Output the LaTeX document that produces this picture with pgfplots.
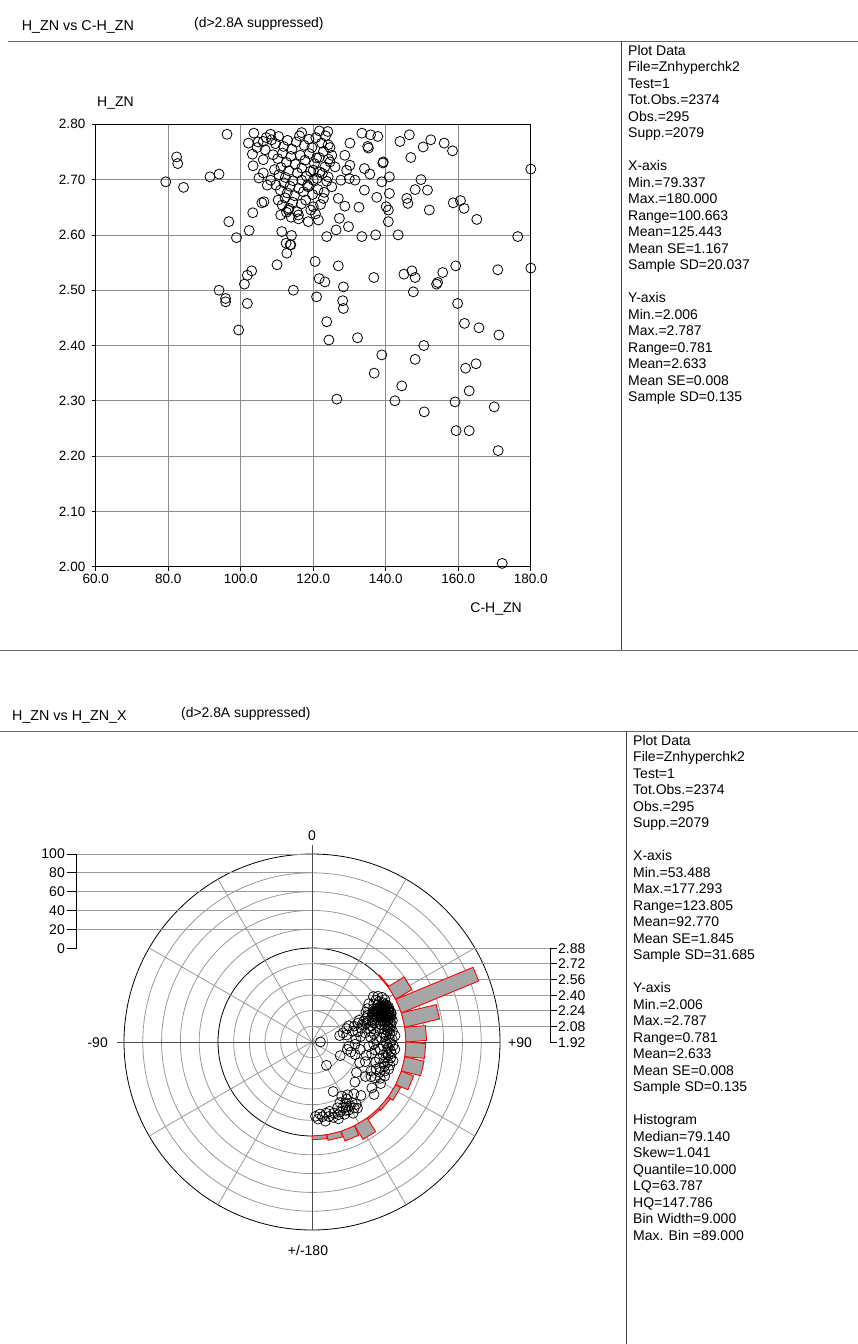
\documentclass[border=0pt]{standalone}
\usepackage{fontspec}
\setmainfont{Liberation Sans}
\usepackage{pgfplots}
\pgfplotsset{compat=1.18}
\definecolor{bargray}{HTML}{A6A6A6}
\definecolor{gridg}{HTML}{8C8C8C}
\definecolor{ringg}{HTML}{999999}
\newcommand\f{\fontsize{14}{16.5}\selectfont}
\newcommand\hbin[2]{%
 \pgfmathsetmacro\hbL{#2*0.94}%
 \pgfmathsetmacro\hbAx{94*sin(#1-4.5)}\pgfmathsetmacro\hbAy{94*cos(#1-4.5)}%
 \pgfmathsetmacro\hbBx{94*sin(#1+4.5)}\pgfmathsetmacro\hbBy{94*cos(#1+4.5)}%
 \pgfmathsetmacro\hbUx{\hbL*sin(#1)}\pgfmathsetmacro\hbUy{\hbL*cos(#1)}%
 \pgfmathsetmacro\hbCx{\hbBx+\hbUx}\pgfmathsetmacro\hbCy{\hbBy+\hbUy}%
 \pgfmathsetmacro\hbDx{\hbAx+\hbUx}\pgfmathsetmacro\hbDy{\hbAy+\hbUy}%
 \edef\hbtmp{\noexpand\addplot[fill=bargray, draw=red, line width=0.9pt] coordinates {(\hbAx,\hbAy) (\hbBx,\hbBy) (\hbCx,\hbCy) (\hbDx,\hbDy) (\hbAx,\hbAy)};}%
 \hbtmp}
\begin{document}
\begin{tikzpicture}[font=\f]
\useasboundingbox (0,0) rectangle (858pt,-1344pt);
% ---------- frame lines and titles ----------
\draw[black!60, line width=0.9pt] (8pt,-41pt) -- (858pt,-41pt);
\draw[black!75, line width=0.9pt] (621.7pt,-41pt) -- (621.7pt,-650pt);
\draw[black!60, line width=0.9pt] (0pt,-650pt) -- (858pt,-650pt);
\draw[black!60, line width=0.9pt] (0pt,-731pt) -- (858pt,-731pt);
\draw[black!75, line width=0.9pt] (626.7pt,-731pt) -- (626.7pt,-1344pt);
\node[anchor=base west, inner sep=0, font=\fontsize{14.3}{16}\selectfont] at (21.7pt,-30pt) {H\_ZN vs C-H\_ZN};
\node[anchor=base west, inner sep=0, font=\fontsize{13.9}{16}\selectfont] at (194pt,-27pt) {(d>2.8A suppressed)};
\node[anchor=base west, inner sep=0, font=\fontsize{14.3}{16}\selectfont] at (12pt,-720pt) {H\_ZN vs H\_ZN\_X};
\node[anchor=base west, inner sep=0, font=\fontsize{13.9}{16}\selectfont] at (181pt,-717pt) {(d>2.8A suppressed)};
% ---------- info texts ----------
\node[anchor=north west, inner sep=0, align=left] at (628pt,-45pt) {Plot Data\\File=Znhyperchk2\\Test=1\\Tot.Obs.=2374\\Obs.=295\\Supp.=2079\\[16.5pt]X-axis\\Min.=79.337\\Max.=180.000\\Range=100.663\\Mean=125.443\\Mean SE=1.167\\Sample SD=20.037\\[16.5pt]Y-axis\\Min.=2.006\\Max.=2.787\\Range=0.781\\Mean=2.633\\Mean SE=0.008\\Sample SD=0.135};
\node[anchor=north west, inner sep=0, align=left] at (633pt,-735pt) {Plot Data\\File=Znhyperchk2\\Test=1\\Tot.Obs.=2374\\Obs.=295\\Supp.=2079\\[16.5pt]X-axis\\Min.=53.488\\Max.=177.293\\Range=123.805\\Mean=92.770\\Mean SE=1.845\\Sample SD=31.685\\[16.5pt]Y-axis\\Min.=2.006\\Max.=2.787\\Range=0.781\\Mean=2.633\\Mean SE=0.008\\Sample SD=0.135\\[16.5pt]Histogram\\Median=79.140\\Skew=1.041\\Quantile=10.000\\LQ=63.787\\HQ=147.786\\Bin Width=9.000\\Max. Bin =89.000};
% ---------- top scatter ----------
\begin{axis}[
  scale only axis, width=435pt, height=442.4pt,
  at={(95.8pt,-566.7pt)}, anchor=south west,
  xmin=60, xmax=180, ymin=2.0, ymax=2.8,
  xtick={60,80,100,120,140,160,180},
  ytick={2.0,2.1,2.2,2.3,2.4,2.5,2.6,2.7,2.8},
  grid=major, major grid style={gridg, line width=0.8pt},
  axis line style={black, line width=0.8pt},
  tick align=outside, major tick length=4pt,
  tick style={black, line width=0.8pt},
  xtick pos=bottom, ytick pos=left,
  /pgf/number format/assume math mode=true,
  tick label style={font=\fontsize{13.5}{14}\selectfont},
  xticklabel style={/pgf/number format/fixed, /pgf/number format/fixed zerofill, /pgf/number format/precision=1},
  yticklabel style={/pgf/number format/fixed, /pgf/number format/fixed zerofill, /pgf/number format/precision=2, xshift=-3pt},
  clip=false
]
\addplot[only marks, mark=o, mark size=5pt, mark options={line width=0.8pt, black}] coordinates {
(79.3,2.696) (82.3,2.741) (82.6,2.729) (84.2,2.686) (91.5,2.705) (94.0,2.710) (96.2,2.782) (96.7,2.624) (98.8,2.595) (94.0,2.500) (95.8,2.485) (95.8,2.479) (99.4,2.428) (101.8,2.476) (101.0,2.511) (101.8,2.527) (103.0,2.535) (102.3,2.608) (103.3,2.640) (105.8,2.658) (106.4,2.660) (110.0,2.546) (111.3,2.606) (112.5,2.585) (113.8,2.582) (112.7,2.567) (114.5,2.500)
(103.2,2.746) (103.6,2.784) (102.1,2.766) (106.2,2.769) (106.7,2.754) (108.2,2.782) (106.2,2.736) (103.4,2.725) (106.2,2.712) (108.2,2.699) (104.5,2.758) (105.0,2.703) (107.3,2.690) (104.8,2.768) (107.0,2.776)
(108.5,2.772) (109.6,2.765) (110.4,2.778) (111.8,2.760) (112.9,2.771) (114.1,2.755) (115.3,2.768) (116.2,2.779) (117.5,2.762) (118.8,2.773) (119.6,2.758) (120.7,2.776) (122.3,2.766) (123.4,2.779) (124.6,2.758)
(108.9,2.745) (110.2,2.738) (111.5,2.748) (112.6,2.731) (113.8,2.742) (115.0,2.728) (116.4,2.744) (117.7,2.735) (118.9,2.747) (120.3,2.729) (121.6,2.740) (122.8,2.751) (124.2,2.737)
(109.3,2.718) (110.5,2.709) (111.1,2.722) (112.3,2.704) (113.2,2.716) (114.4,2.698) (115.6,2.712) (116.8,2.721) (118.1,2.706) (119.2,2.715) (121.0,2.702) (122.5,2.711) (123.7,2.697)
(109.7,2.690) (110.9,2.681) (111.9,2.694) (112.8,2.676) (113.6,2.688) (114.8,2.671) (116.0,2.684) (117.3,2.678) (118.4,2.690) (119.8,2.673) (121.3,2.682) (123.0,2.677)
(110.3,2.663) (111.4,2.654) (112.2,2.667) (113.3,2.648) (114.3,2.659) (115.5,2.642) (116.7,2.656) (117.9,2.663) (119.3,2.645) (120.6,2.638) (122.0,2.655)
(111.0,2.636) (112.6,2.641) (113.9,2.632) (115.9,2.629)
(116.8,2.785) (121.7,2.788) (124.0,2.787) (124.1,2.763) (130.1,2.766) (133.4,2.784) (135.8,2.781) (137.8,2.778) (135.0,2.760) (135.2,2.757) (143.9,2.769) (146.5,2.781) (150.3,2.759) (152.4,2.772) (156.1,2.766) (158.4,2.752) (146.9,2.740) (139.3,2.732) (139.2,2.730) (180.0,2.719)
(149.7,2.700) (148.1,2.682) (145.8,2.666) (146.1,2.657) (151.5,2.681) (152.0,2.645) (158.6,2.658) (160.6,2.662) (161.6,2.648) (165.1,2.628) (176.4,2.597) (180.0,2.540) (170.9,2.537) (159.3,2.544) (155.7,2.532) (154.3,2.514) (154.0,2.511) (147.2,2.535) (148.1,2.523) (145.0,2.529) (147.6,2.497)
(159.8,2.476) (161.7,2.440) (165.7,2.432) (171.2,2.419) (150.5,2.400) (148.1,2.375) (162.0,2.359) (164.9,2.367) (138.9,2.383) (136.8,2.350) (132.2,2.414) (124.3,2.410) (123.7,2.443) (128.3,2.467) (128.1,2.481) (128.3,2.506) (123.2,2.515) (121.6,2.521) (120.9,2.488) (120.5,2.552) (126.9,2.544) (136.7,2.523)
(123.7,2.597) (133.4,2.597) (137.2,2.600) (143.4,2.600) (114.0,2.599) (113.6,2.582) (129.7,2.615) (127.2,2.630) (126.3,2.609) (140.7,2.624) (140.7,2.645) (140.1,2.651) (132.6,2.650) (128.7,2.652) (126.9,2.666) (122.8,2.666) (120.0,2.651) (137.5,2.668) (134.1,2.681) (141.0,2.675) (138.9,2.696) (141.0,2.705) (135.6,2.710) (134.1,2.720)
(131.5,2.699) (129.9,2.702) (127.6,2.699) (125.1,2.687) (124.1,2.705) (130.1,2.726) (129.2,2.717) (126.0,2.723) (124.6,2.732) (123.2,2.723) (128.7,2.744) (125.1,2.744) (120.9,2.739) (120.0,2.717) (121.8,2.714) (120.0,2.699) (118.6,2.687) (116.8,2.699) (121.4,2.627) (118.6,2.624) (115.9,2.636) (113.1,2.645)
(144.4,2.327) (126.5,2.303) (142.5,2.300) (159.1,2.298) (150.6,2.280) (169.9,2.289) (163.0,2.318) (159.4,2.246) (163.0,2.246) (171.0,2.210) (172.1,2.006)
};
\end{axis}
\node[anchor=base west, inner sep=0] at (97pt,-106pt) {H\_ZN};
\node[anchor=base east, inner sep=0] at (522pt,-612pt) {C-H\_ZN};
% ---------- polar panel ----------
\begin{axis}[at={(0pt,-1340pt)}, anchor=south west, x=1pt, y=1pt,
  xmin=-312, xmax=308, ymin=-298, ymax=302, hide axis, clip=false]
% rings
\draw[ringg, line width=0.8pt] (0,0) circle[radius=15.67pt];
\draw[ringg, line width=0.8pt] (0,0) circle[radius=31.33pt];
\draw[ringg, line width=0.8pt] (0,0) circle[radius=47pt];
\draw[ringg, line width=0.8pt] (0,0) circle[radius=62.67pt];
\draw[ringg, line width=0.8pt] (0,0) circle[radius=78.33pt];
\draw[ringg, line width=0.8pt] (0,0) circle[radius=112.8pt];
\draw[ringg, line width=0.8pt] (0,0) circle[radius=131.6pt];
\draw[ringg, line width=0.8pt] (0,0) circle[radius=150.4pt];
\draw[ringg, line width=0.8pt] (0,0) circle[radius=169.2pt];
\draw[black, line width=0.8pt] (0,0) circle[radius=94pt];
\draw[black, line width=0.8pt] (0,0) circle[radius=188pt];
% spokes every 30 degrees
\draw[ringg, line width=0.8pt] (0,0) -- (94,162.8);
\draw[ringg, line width=0.8pt] (0,0) -- (162.8,94);
\draw[ringg, line width=0.8pt] (0,0) -- (162.8,-94);
\draw[ringg, line width=0.8pt] (0,0) -- (94,-162.8);
\draw[ringg, line width=0.8pt] (0,0) -- (-94,-162.8);
\draw[ringg, line width=0.8pt] (0,0) -- (-162.8,-94);
\draw[ringg, line width=0.8pt] (0,0) -- (-162.8,94);
\draw[ringg, line width=0.8pt] (0,0) -- (-94,162.8);
% main axes
\draw[black!70, line width=0.8pt] (-195,0) -- (188,0);
\draw[black!70, line width=0.8pt] (0,197) -- (0,-188);
% histogram scale (left) lines
\draw[ringg, line width=0.8pt] (-235.3,188) -- (0,188);
\draw[ringg, line width=0.8pt] (-235.3,169.2) -- (0,169.2);
\draw[ringg, line width=0.8pt] (-235.3,150.4) -- (0,150.4);
\draw[ringg, line width=0.8pt] (-235.3,131.6) -- (0,131.6);
\draw[ringg, line width=0.8pt] (-235.3,112.8) -- (0,112.8);
\draw[black, line width=0.8pt] (-235.3,188) -- (-235.3,94);
\draw[black, line width=0.8pt] (-245,188) -- (-235.3,188);
\draw[black, line width=0.8pt] (-245,169.2) -- (-235.3,169.2);
\draw[black, line width=0.8pt] (-245,150.4) -- (-235.3,150.4);
\draw[black, line width=0.8pt] (-245,131.6) -- (-235.3,131.6);
\draw[black, line width=0.8pt] (-245,112.8) -- (-235.3,112.8);
\draw[black, line width=0.8pt] (-245,94) -- (-235.3,94);
% distance scale (right) lines
\draw[ringg, line width=0.8pt] (0,94) -- (238,94);
\draw[ringg, line width=0.8pt] (0,78.33) -- (238,78.33);
\draw[ringg, line width=0.8pt] (0,62.67) -- (238,62.67);
\draw[ringg, line width=0.8pt] (0,47) -- (238,47);
\draw[ringg, line width=0.8pt] (0,31.33) -- (238,31.33);
\draw[ringg, line width=0.8pt] (0,15.67) -- (238,15.67);
\draw[black, line width=0.8pt] (238,94) -- (238,0);
\draw[black, line width=0.8pt] (238,94) -- (245,94);
\draw[black, line width=0.8pt] (238,78.33) -- (245,78.33);
\draw[black, line width=0.8pt] (238,62.67) -- (245,62.67);
\draw[black, line width=0.8pt] (238,47) -- (245,47);
\draw[black, line width=0.8pt] (238,31.33) -- (245,31.33);
\draw[black, line width=0.8pt] (238,15.67) -- (245,15.67);
\draw[black, line width=0.8pt] (238,0) -- (245,0);
% scatter in polar form: a = H_ZN_X (deg, clockwise from top), d = H_ZN
\addplot[only marks, mark=o, mark size=5pt, mark options={line width=0.7pt, black}] table[row sep=\\,
  x expr={97.917*(\thisrow{d}-1.92)*sin(\thisrow{a})},
  y expr={97.917*(\thisrow{d}-1.92)*cos(\thisrow{a})}] {
a d\\
53.5 2.70\\ 55.2 2.74\\ 56.8 2.70\\ 57.5 2.77\\ 58.3 2.66\\ 59.1 2.72\\ 59.8 2.78\\ 60.4 2.69\\ 61.0 2.75\\ 61.7 2.63\\ 62.2 2.71\\ 62.8 2.76\\ 56.0 2.62\\ 58.9 2.58\\ 60.9 2.55\\ 62.5 2.67\\
63.2 2.73\\ 63.5 2.68\\ 63.9 2.77\\ 64.2 2.64\\ 64.5 2.71\\ 64.8 2.75\\ 65.1 2.69\\ 65.4 2.78\\ 65.7 2.66\\ 66.0 2.72\\ 66.3 2.74\\ 66.6 2.70\\ 66.9 2.77\\ 67.2 2.65\\ 67.5 2.73\\ 67.8 2.69\\ 68.1 2.76\\ 68.4 2.71\\ 68.7 2.67\\ 69.0 2.74\\ 69.3 2.78\\ 69.6 2.70\\ 69.9 2.72\\ 70.2 2.66\\ 70.5 2.75\\ 70.8 2.69\\ 71.1 2.73\\ 71.4 2.77\\ 71.7 2.64\\
63.7 2.62\\ 64.9 2.60\\ 66.2 2.61\\ 67.4 2.58\\ 68.6 2.62\\ 69.8 2.60\\ 70.9 2.57\\ 64.1 2.76\\ 65.6 2.74\\ 67.0 2.71\\ 68.3 2.68\\ 69.5 2.65\\ 70.6 2.72\\ 71.5 2.70\\ 63.4 2.70\\ 65.0 2.66\\ 66.8 2.63\\ 68.9 2.76\\ 70.3 2.78\\ 71.9 2.75\\
64.6 2.55\\ 66.5 2.52\\ 68.0 2.49\\ 69.2 2.54\\ 70.7 2.50\\ 65.3 2.45\\ 67.7 2.43\\ 69.4 2.38\\ 71.2 2.46\\ 66.1 2.33\\ 68.8 2.30\\
72.3 2.71\\ 72.9 2.76\\ 73.4 2.67\\ 73.9 2.73\\ 74.5 2.69\\ 75.0 2.77\\ 75.6 2.64\\ 76.1 2.72\\ 76.7 2.75\\ 77.2 2.68\\ 77.8 2.70\\ 78.3 2.74\\ 78.9 2.62\\ 79.4 2.71\\ 80.0 2.67\\ 80.6 2.73\\ 73.1 2.58\\ 74.8 2.55\\ 76.4 2.51\\ 78.0 2.56\\ 79.7 2.53\\ 74.2 2.44\\ 77.5 2.40\\ 80.2 2.47\\ 75.3 2.35\\ 78.6 2.28\\ 73.6 2.25\\ 76.9 2.21\\
81.4 2.70\\ 82.3 2.75\\ 83.1 2.66\\ 84.0 2.72\\ 84.9 2.68\\ 85.7 2.77\\ 86.6 2.63\\ 87.4 2.71\\ 88.3 2.74\\ 89.2 2.67\\ 82.8 2.56\\ 85.2 2.52\\ 87.9 2.58\\ 83.6 2.42\\ 86.3 2.37\\ 89.6 2.006\\
90.6 2.72\\ 91.5 2.68\\ 92.4 2.75\\ 93.2 2.65\\ 94.1 2.70\\ 95.0 2.77\\ 95.9 2.62\\ 96.7 2.73\\ 97.6 2.69\\ 98.4 2.74\\ 91.8 2.55\\ 94.6 2.50\\ 97.2 2.57\\ 93.0 2.36\\ 96.1 2.30\\ 98.8 2.42\\
99.5 2.71\\ 100.4 2.66\\ 101.3 2.74\\ 102.2 2.69\\ 103.1 2.77\\ 104.0 2.63\\ 104.9 2.72\\ 105.8 2.68\\ 106.7 2.75\\ 107.6 2.60\\ 100.9 2.54\\ 103.7 2.49\\ 106.2 2.38\\ 101.8 2.29\\ 104.5 2.33\\
108.5 2.70\\ 109.6 2.75\\ 110.7 2.66\\ 111.8 2.72\\ 112.9 2.63\\ 114.0 2.68\\ 115.1 2.74\\ 116.2 2.59\\ 110.2 2.50\\ 113.4 2.45\\ 115.8 2.24\\
118.0 2.71\\ 119.6 2.66\\ 121.2 2.74\\ 122.8 2.57\\ 124.4 2.47\\ 120.5 2.62\\
127.5 2.69\\ 130.2 2.75\\ 133.0 2.52\\ 137.5 2.66\\ 141.0 2.60\\
144.6 2.70\\ 145.5 2.74\\ 146.4 2.66\\ 147.3 2.72\\ 148.2 2.20\\ 149.1 2.68\\ 150.0 2.76\\ 150.9 2.63\\ 151.8 2.71\\ 152.6 2.67\\ 146.0 2.57\\ 148.8 2.60\\ 151.2 2.55\\
153.6 2.70\\ 154.7 2.66\\ 155.8 2.73\\ 156.9 2.47\\ 157.9 2.69\\ 158.9 2.64\\ 160.0 2.71\\ 161.0 2.75\\ 155.2 2.60\\
162.8 2.68\\ 164.3 2.72\\ 165.8 2.65\\ 167.3 2.70\\ 168.8 2.66\\ 170.3 2.74\\
172.0 2.69\\ 173.8 2.66\\ 175.5 2.71\\ 177.3 2.68\\
};
% histogram bars: bin centre angle, count
\hbin{49.5}{1}
\hbin{58.5}{20}
\hbin{67.5}{89}
\hbin{76.5}{38}
\hbin{85.5}{22}
\hbin{94.5}{21}
\hbin{103.5}{21}
\hbin{112.5}{14}
\hbin{121.5}{6}
\hbin{130.5}{3}
\hbin{139.5}{2}
\hbin{148.5}{17}
\hbin{157.5}{11}
\hbin{166.5}{6}
\hbin{175.5}{4}
\end{axis}
% polar labels
\node[anchor=base, inner sep=0] at (312pt,-840pt) {0};
\node[anchor=base east, inner sep=0] at (108pt,-1047pt) {-90};
\node[anchor=base west, inner sep=0] at (508pt,-1047pt) {+90};
\node[anchor=base, inner sep=0] at (308pt,-1255pt) {+/-180};
\node[anchor=base east, inner sep=0] at (65pt,-858pt) {100};
\node[anchor=base east, inner sep=0] at (65pt,-877pt) {80};
\node[anchor=base east, inner sep=0] at (65pt,-896pt) {60};
\node[anchor=base east, inner sep=0] at (65pt,-915pt) {40};
\node[anchor=base east, inner sep=0] at (65pt,-934pt) {20};
\node[anchor=base east, inner sep=0] at (65pt,-953pt) {0};
\node[anchor=base west, inner sep=0] at (558pt,-953pt) {2.88};
\node[anchor=base west, inner sep=0] at (558pt,-968.7pt) {2.72};
\node[anchor=base west, inner sep=0] at (558pt,-984.3pt) {2.56};
\node[anchor=base west, inner sep=0] at (558pt,-1000pt) {2.40};
\node[anchor=base west, inner sep=0] at (558pt,-1015.7pt) {2.24};
\node[anchor=base west, inner sep=0] at (558pt,-1031.3pt) {2.08};
\node[anchor=base west, inner sep=0] at (558pt,-1047pt) {1.92};
\end{tikzpicture}
\end{document}
